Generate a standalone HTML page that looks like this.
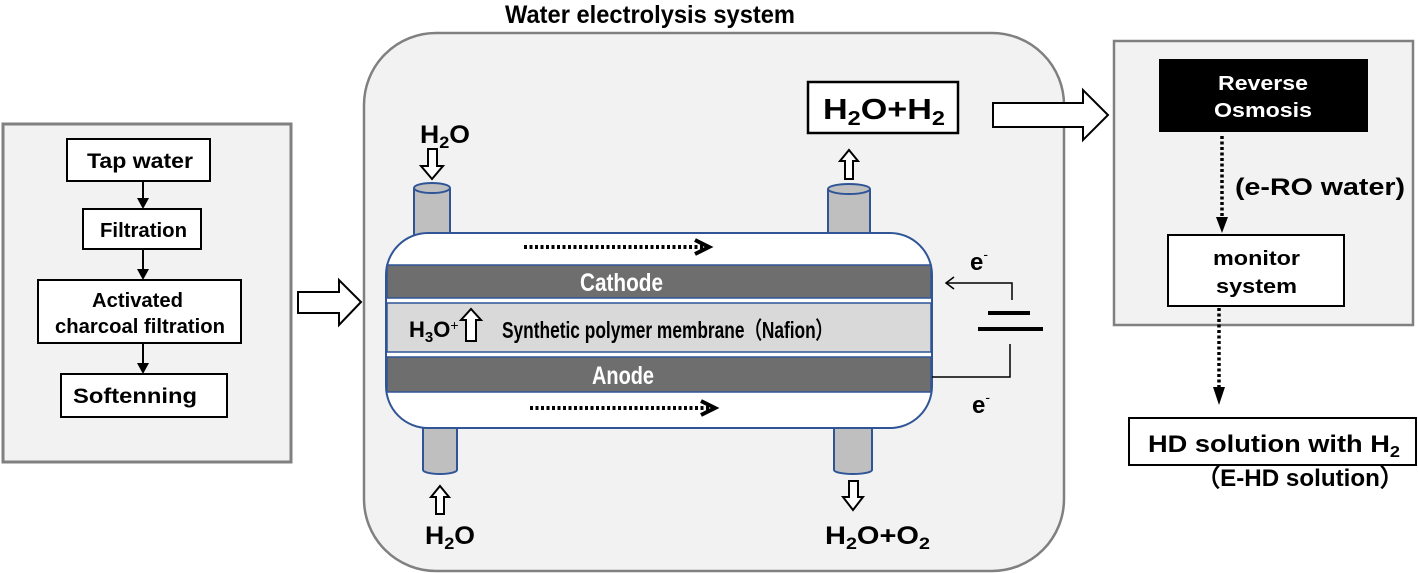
<!DOCTYPE html>
<html><head><meta charset="utf-8"><style>
html,body{margin:0;padding:0;background:#fff;}
svg{display:block;}
text{font-family:"Liberation Sans",sans-serif;font-weight:bold;}
</style></head><body>
<svg width="1418" height="573" viewBox="0 0 1418 573" xmlns="http://www.w3.org/2000/svg">
<!-- left panel -->
<rect x="3" y="124" width="288" height="338" fill="#f2f2f2" stroke="#808080" stroke-width="3"/>
<rect x="67" y="139" width="143" height="42" fill="#fff" stroke="#000" stroke-width="2"/>
<text x="87" y="168" font-size="21" textLength="106" lengthAdjust="spacingAndGlyphs">Tap water</text>
<rect x="83" y="209" width="118" height="40" fill="#fff" stroke="#000" stroke-width="2"/>
<text x="100" y="237" font-size="20" textLength="87" lengthAdjust="spacingAndGlyphs">Filtration</text>
<rect x="38" y="280" width="203" height="63" fill="#fff" stroke="#000" stroke-width="2"/>
<text x="92" y="307" font-size="20" textLength="91" lengthAdjust="spacingAndGlyphs">Activated</text>
<text x="55" y="333" font-size="20" textLength="170" lengthAdjust="spacingAndGlyphs">charcoal filtration</text>
<rect x="61" y="374" width="166" height="43" fill="#fff" stroke="#000" stroke-width="2"/>
<text x="73" y="403" font-size="21" textLength="124" lengthAdjust="spacingAndGlyphs">Softenning</text>
<g stroke="#000" stroke-width="2"><line x1="143" y1="181" x2="143" y2="200"/><line x1="143" y1="249" x2="143" y2="271"/><line x1="143" y1="343" x2="143" y2="365"/></g>
<g fill="#000"><path d="M137,198 L149,198 L143,209 Z"/><path d="M137,269 L149,269 L143,280 Z"/><path d="M137,363 L149,363 L143,374 Z"/></g>
<!-- fat arrow left -->
<path d="M298,292 L339,292 L339,280 L361,302 L339,325 L339,313 L298,313 Z" fill="#fff" stroke="#000" stroke-width="2"/>
<!-- main panel -->
<text x="505" y="23" font-size="25" textLength="290" lengthAdjust="spacingAndGlyphs">Water electrolysis system</text>
<rect x="364" y="33" width="700" height="538" rx="72" fill="#f2f2f2" stroke="#808080" stroke-width="2.5"/>
<!-- cylinders -->
<g fill="#bfbfbf" stroke="#2f5597" stroke-width="2">
<path d="M414,188 L414,236 A18,5 0 0 0 450,236 L450,188"/>
<ellipse cx="432" cy="188" rx="18" ry="5"/>
<path d="M828,189 L828,237 A21,5 0 0 0 870,237 L870,189"/>
<ellipse cx="849" cy="189" rx="21" ry="5"/>
<path d="M423,425 L423,470 A17,4 0 0 0 457,470 L457,425"/>
<path d="M834,425 L834,470 A19,4 0 0 0 872,470 L872,425"/>
</g>
<!-- electrolyzer -->
<rect x="386" y="233" width="546" height="195" rx="42" fill="#fff" stroke="#2f5597" stroke-width="2"/>
<rect x="387" y="265" width="544" height="33" fill="#6e6e6e" stroke="#2f5597" stroke-width="1.5"/>
<rect x="387" y="303" width="544" height="49" fill="#d9d9d9" stroke="#2f5597" stroke-width="1.5"/>
<rect x="387" y="357" width="544" height="35" fill="#6e6e6e" stroke="#2f5597" stroke-width="1.5"/>
<text x="580" y="291" font-size="25" fill="#fff" textLength="83" lengthAdjust="spacingAndGlyphs">Cathode</text>
<text x="592" y="384" font-size="25" fill="#fff" textLength="62" lengthAdjust="spacingAndGlyphs">Anode</text>
<text x="409" y="337" font-size="22">H<tspan font-size="15" dy="5">3</tspan><tspan dy="-5">O</tspan><tspan font-size="14" dy="-7" font-weight="normal">+</tspan></text>
<path d="M466,341 L466,320 L461,320 L471,309 L481,320 L476,320 L476,341 Z" fill="#fff" stroke="#000" stroke-width="2"/>
<text x="502" y="338" font-size="23" textLength="331" lengthAdjust="spacingAndGlyphs">Synthetic polymer membrane（Nafion）</text>
<!-- dotted arrows -->
<line x1="524" y1="247" x2="705" y2="247" stroke="#000" stroke-width="4" stroke-dasharray="3,2.5"/>
<path d="M695,240 L709,247 L695,254" fill="none" stroke="#000" stroke-width="4"/>
<line x1="530" y1="408" x2="711" y2="408" stroke="#000" stroke-width="4" stroke-dasharray="3,2.5"/>
<path d="M701,401 L715,408 L701,415" fill="none" stroke="#000" stroke-width="4"/>
<!-- H2O in/out -->
<text x="420" y="143" font-size="25" textLength="50" lengthAdjust="spacingAndGlyphs">H<tspan font-size="17" dy="5">2</tspan><tspan dy="-5">O</tspan></text>
<path d="M428,149 L437,149 L437,166 L443,166 L432,179 L421,166 L428,166 Z" fill="#fff" stroke="#000" stroke-width="2"/>
<path d="M849,150 L858,161 L853,161 L853,179 L845,179 L845,161 L840,161 Z" fill="#fff" stroke="#000" stroke-width="2"/>
<rect x="808" y="82" width="150" height="51" fill="#fff" stroke="#000" stroke-width="2.5"/>
<text x="823" y="119" font-size="29" textLength="122" lengthAdjust="spacingAndGlyphs">H<tspan font-size="20" dy="6">2</tspan><tspan dy="-6">O+H</tspan><tspan font-size="20" dy="6">2</tspan></text>
<path d="M440,486 L449,497 L444,497 L444,514 L436,514 L436,497 L431,497 Z" fill="#fff" stroke="#000" stroke-width="2"/>
<text x="425" y="544" font-size="25" textLength="50" lengthAdjust="spacingAndGlyphs">H<tspan font-size="17" dy="5">2</tspan><tspan dy="-5">O</tspan></text>
<path d="M849,481 L858,481 L858,497 L863,497 L853,510 L843,497 L849,497 Z" fill="#fff" stroke="#000" stroke-width="2"/>
<text x="825" y="544" font-size="25" textLength="105" lengthAdjust="spacingAndGlyphs">H<tspan font-size="17" dy="5">2</tspan><tspan dy="-5">O+O</tspan><tspan font-size="17" dy="5">2</tspan></text>
<!-- battery circuit -->
<polyline points="1012,300 1012,283 947,283" fill="none" stroke="#000" stroke-width="1.5"/>
<path d="M954,277 L946,283 L954,289" fill="none" stroke="#000" stroke-width="1.5"/>
<line x1="988" y1="313" x2="1030" y2="313" stroke="#000" stroke-width="4"/>
<line x1="978" y1="329" x2="1043" y2="329" stroke="#000" stroke-width="4"/>
<polyline points="1010,344 1010,377 932,377" fill="none" stroke="#000" stroke-width="1.5"/>
<text x="970" y="270" font-size="24">e<tspan font-size="14" dy="-11" font-weight="normal">-</tspan></text>
<text x="972" y="413" font-size="24">e<tspan font-size="14" dy="-11" font-weight="normal">-</tspan></text>
<!-- big arrow right -->
<path d="M993,103 L1083,103 L1083,90 L1108,115 L1083,140 L1083,127 L993,127 Z" fill="#fff" stroke="#000" stroke-width="2"/>
<!-- right panel -->
<rect x="1114" y="41" width="299" height="284" fill="#f2f2f2" stroke="#808080" stroke-width="2.5"/>
<rect x="1159" y="59" width="209" height="73" fill="#000"/>
<text x="1218" y="90" font-size="20" fill="#fff" textLength="90" lengthAdjust="spacingAndGlyphs">Reverse</text>
<text x="1214" y="117" font-size="20" fill="#fff" textLength="98" lengthAdjust="spacingAndGlyphs">Osmosis</text>
<line x1="1222" y1="136" x2="1222" y2="220" stroke="#000" stroke-width="3.5" stroke-dasharray="3,2.5"/>
<path d="M1216,217 L1228,217 L1222,233 Z" fill="#000"/>
<text x="1235" y="195" font-size="24" textLength="170" lengthAdjust="spacingAndGlyphs">(e-RO water)</text>
<rect x="1168" y="235" width="176" height="71" fill="#fff" stroke="#000" stroke-width="2"/>
<text x="1213" y="265" font-size="20" textLength="87" lengthAdjust="spacingAndGlyphs">monitor</text>
<text x="1216" y="293" font-size="20" textLength="81" lengthAdjust="spacingAndGlyphs">system</text>
<line x1="1219" y1="308" x2="1219" y2="390" stroke="#000" stroke-width="3.5" stroke-dasharray="3,2.5"/>
<path d="M1213,387 L1225,387 L1219,405 Z" fill="#000"/>
<rect x="1129" y="418" width="287" height="47" fill="#fff" stroke="#000" stroke-width="2"/>
<text x="1148" y="452" font-size="24" textLength="252" lengthAdjust="spacingAndGlyphs">HD solution with H<tspan font-size="16" dy="5">2</tspan></text>
<text x="1196" y="486" font-size="24" textLength="208" lengthAdjust="spacingAndGlyphs">（E-HD solution）</text>
</svg>
</body></html>
